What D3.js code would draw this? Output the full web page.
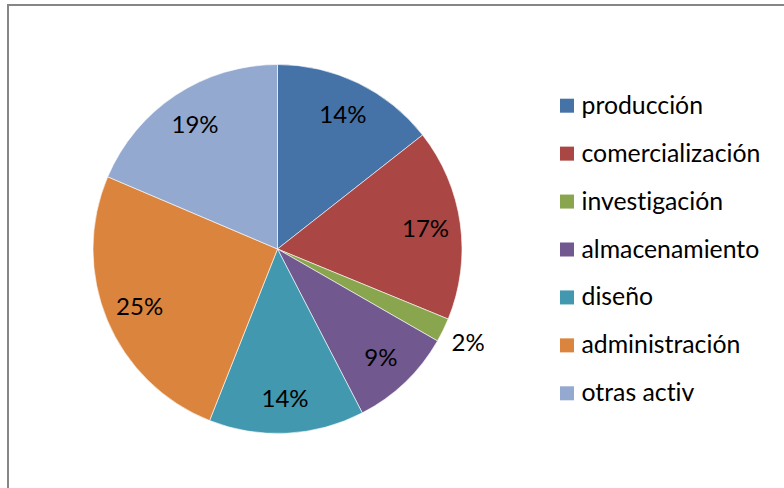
<!DOCTYPE html>
<html>
<head>
<meta charset="utf-8">
<script src="https://cdn.jsdelivr.net/npm/d3@7"></script>
<style>
  html, body { margin: 0; padding: 0; background: #fff; }
  svg { display: block; }
  text { font-family: Lato, "Open Sans", sans-serif; fill: #000; font-variant-ligatures: none; }
</style>
</head>
<body>
<svg id="chart" width="784" height="488"></svg>
<script>
// Share of activity by area (percent)
const categories = ["producción", "comercialización", "investigación", "almacenamiento", "diseño", "administración", "otras activ"];
const values = [14.4, 16.8, 2.1, 9.1, 13.6, 25.4, 18.6];
const colors = ["#4572A7", "#AA4643", "#89A54E", "#71588F", "#4198AF", "#DB843D", "#93A9CF"];

const svg = d3.select("#chart");

// chart frame (extends past the right and bottom edges)
svg.append("rect")
  .attr("x", 8).attr("y", 5)
  .attr("width", 800).attr("height", 520)
  .attr("fill", "none")
  .attr("stroke", "#868686")
  .attr("stroke-width", 2);

const cx = 277.5, cy = 249, r = 184.5;
const total = d3.sum(values);
const data = categories.map((c, i) => ({ name: c, value: values[i], color: colors[i] }));

const pie = d3.pie().value(d => d.value).sort(null);
const arcs = pie(data);
const arc = d3.arc().innerRadius(0).outerRadius(r);

const g = svg.append("g").attr("transform", `translate(${cx},${cy})`);

g.selectAll("path.slice")
  .data(arcs)
  .join("path")
  .attr("class", "slice")
  .attr("d", arc)
  .attr("fill", d => d.data.color)
  .attr("stroke", "#fff")
  .attr("stroke-width", 0.6);

// labels: inside for normal slices, outside for very thin ones
const inner = d3.arc().innerRadius(r * 0.81).outerRadius(r * 0.81);
const outer = d3.arc().innerRadius(r * 1.15).outerRadius(r * 1.15);
g.selectAll("text.pct")
  .data(arcs)
  .join("text")
  .attr("class", "pct")
  .attr("transform", d => {
    const p = (d.data.value / total < 0.05 ? outer : inner).centroid(d);
    return `translate(${p[0]},${p[1]})`;
  })
  .attr("text-anchor", "middle")
  .attr("dy", "0.36em")
  .attr("font-size", 24)
  .text(d => Math.round(d.data.value / total * 100) + "%");

// legend
const y = d3.scalePoint().domain(categories).range([105.7, 393.3]);
const leg = svg.append("g").selectAll("g")
  .data(data)
  .join("g")
  .attr("transform", d => `translate(560,${y(d.name)})`);
leg.append("rect")
  .attr("x", 0).attr("y", -7)
  .attr("width", 14).attr("height", 14)
  .attr("fill", d => d.color);
leg.append("text")
  .attr("x", 21.5).attr("y", 8)
  .attr("font-size", 24.8)
  .text(d => d.name);
</script>
</body>
</html>
